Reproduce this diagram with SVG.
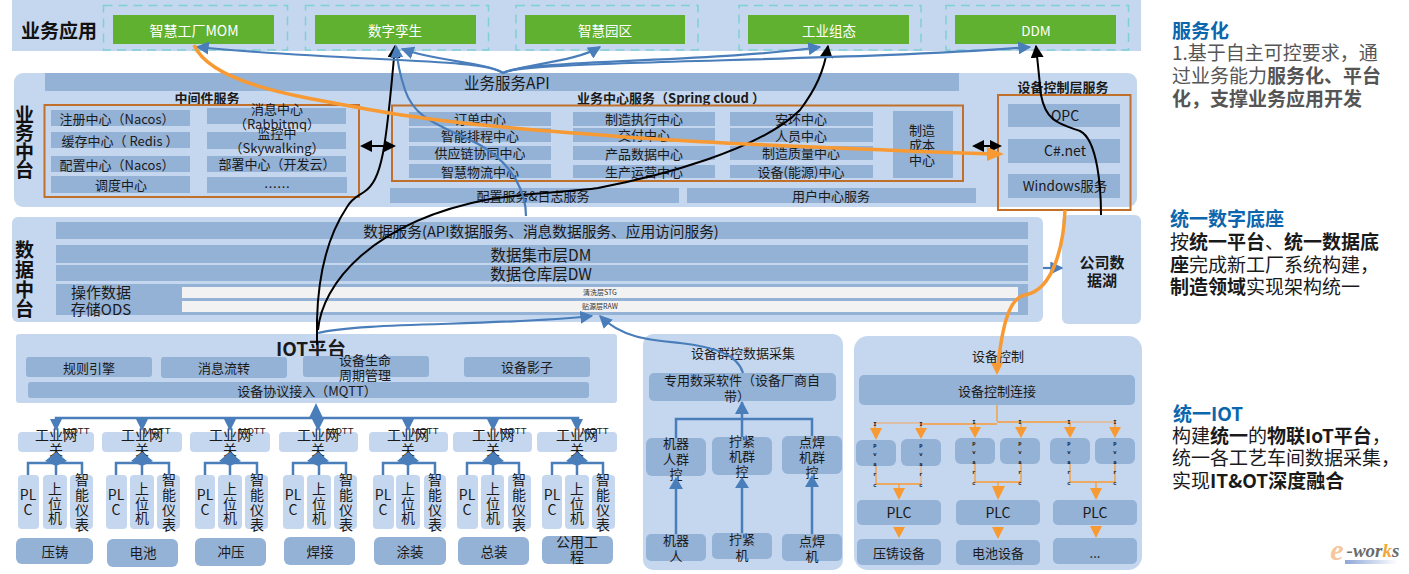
<svg xmlns="http://www.w3.org/2000/svg" width="1409" height="574" viewBox="0 0 1409 574">
<style>
text{font-family:"Noto Sans CJK SC","Noto Sans",sans-serif;fill:#1a1a1a;text-anchor:middle;dominant-baseline:central;font-size:13px}
.band{fill:#c5d7ef}.cell{fill:#94b1d6}.lt{fill:#c5d7ef}
.green{fill:#5fb12f}.dash{fill:none;stroke:#7fd0d6;stroke-width:1.5;stroke-dasharray:9 6}
text.gt{fill:#fff;font-size:13.500px}
.ob{fill:none;stroke:#c0702a;stroke-width:2}
text.h{font-weight:700;font-size:19px;fill:#111}
text.b{font-weight:700;font-size:13px}
text.m{font-size:15.500px}
text.s{font-size:7px;fill:#333}
text.q{font-size:9.500px;font-family:"Liberation Sans",sans-serif}
text.gw{font-size:14px}
text.side{text-anchor:start;font-size:19px;dominant-baseline:auto;fill:#1a1a1a}
.side tspan.bd{font-weight:700}
text.st{fill:#0b66ad;font-weight:700;text-anchor:start;font-size:19px;dominant-baseline:auto}
text.grey{fill:#555}
.tiny text{font-family:"Liberation Mono",monospace;font-size:5.500px;font-weight:700;fill:#111}
.bl{fill:none;stroke:#4a7ebb;stroke-width:2.200}
.blt{fill:none;stroke:#4a7ebb;stroke-width:2.500}
.k{fill:none;stroke:#000;stroke-width:2}
.o{fill:none;stroke:#f79a33;stroke-width:3.500}
.ot{fill:none;stroke:#f79a33;stroke-width:1.300}
.tan{fill:none;stroke:#e3b88f;stroke-width:1.600}
.bh{fill:#4a7ebb}.kh{fill:#000}.oh{fill:#f79a33}
</style>
<defs>
<marker id="mbl" viewBox="0 0 10 10" refX="9" refY="5" markerWidth="13" markerHeight="13" orient="auto" markerUnits="userSpaceOnUse"><path d="M0 0L10 5L0 10z" class="bh"/></marker>
<marker id="mk" viewBox="0 0 10 10" refX="9" refY="5" markerWidth="13" markerHeight="13" orient="auto" markerUnits="userSpaceOnUse"><path d="M0 0L10 5L0 10z" class="kh"/></marker>
<linearGradient id="lg"><stop offset="0" stop-color="#8fa8d8"/><stop offset="1" stop-color="#fff"/></linearGradient>
</defs>

<g id="app-layer">
<rect x="12" y="0" width="1129" height="51" class="band"/>
<text x="59" y="29" class="h">业务应用</text>
<rect x="103.500" y="5.500" width="184" height="44.500" class="dash"/><rect x="113" y="15" width="161" height="29" class="green"/><text x="194" y="29.500" class="gt" style="font-size:14px">智慧工厂MOM</text>
<rect x="305.500" y="5.500" width="183" height="44.500" class="dash"/><rect x="315" y="15" width="161" height="29" class="green"/><text x="395" y="29.500" class="gt">数字孪生</text>
<rect x="516" y="5.500" width="182" height="44.500" class="dash"/><rect x="525" y="15" width="160" height="29" class="green"/><text x="605" y="29.500" class="gt">智慧园区</text>
<rect x="739" y="5.500" width="182" height="44.500" class="dash"/><rect x="748" y="15" width="161" height="29" class="green"/><text x="829" y="29.500" class="gt">工业组态</text>
<rect x="946" y="5.500" width="182.500" height="44.500" class="dash"/><rect x="955" y="15" width="161" height="29" class="green"/><text x="1036" y="29.500" class="gt">DDM</text>
</g>

<g id="biz-platform">
<rect x="14" y="73" width="1123" height="134" rx="9" class="band"/>
<rect x="45" y="73" width="914" height="18" class="cell"/>
<text x="507" y="82" class="m">业务服务API</text>
<text x="24.500" y="113" class="h">业</text><text x="24.500" y="131" class="h">务</text><text x="24.500" y="150" class="h">中</text><text x="24.500" y="168" class="h">台</text>
</g>
<g id="middleware">
<text x="207" y="97" class="b">中间件服务</text>
<rect x="44.500" y="105" width="314.500" height="92" class="ob"/>
<rect x="51" y="110" width="139" height="16" class="cell"/><text x="117" y="118">注册中心（Nacos）</text>
<rect x="51" y="132" width="139" height="16" class="cell"/><text x="120" y="140">缓存中心（ Redis ）</text>
<rect x="51" y="156" width="139" height="16" class="cell"/><text x="117" y="164">配置中心（Nacos）</text>
<rect x="51" y="176" width="139" height="17" class="cell"/><text x="121" y="184.500">调度中心</text>
<rect x="207" y="108" width="139" height="16" class="cell"/><text x="277" y="108">消息中心</text><text x="277" y="123">（Rabbitmq）</text>
<rect x="207" y="132" width="139" height="17" class="cell"/><text x="277" y="132">监控中</text><text x="277" y="147">（Skywalking）</text>
<rect x="207" y="156" width="139" height="16" class="cell"/><text x="277" y="163.500">部署中心（开发云）</text>
<rect x="207" y="177" width="140" height="16" class="cell"/><text x="277" y="186">……</text>
</g>
<g id="biz-center">
<text x="671" y="97" class="b">业务中心服务（Spring cloud ）</text>
<rect x="392" y="105.500" width="571" height="75.500" class="ob"/>
<rect x="409" y="112" width="142" height="14" class="cell"/><text x="480" y="118">订单中心</text>
<rect x="409" y="128" width="142" height="14" class="cell"/><text x="480" y="135">智能排程中心</text>
<rect x="409" y="146" width="142" height="14" class="cell"/><text x="480" y="152.500">供应链协同中心</text>
<rect x="409" y="164" width="142" height="14" class="cell"/><text x="480" y="171">智慧物流中心</text>
<rect x="573" y="112" width="142" height="14" class="cell"/><text x="644" y="118">制造执行中心</text>
<rect x="573" y="128" width="142" height="14" class="cell"/><text x="644" y="134">交付中心</text>
<rect x="573" y="146" width="142" height="14" class="cell"/><text x="644" y="153">产品数据中心</text>
<rect x="573" y="165" width="142" height="13" class="cell"/><text x="644" y="171">生产运营中心</text>
<rect x="730" y="112" width="143" height="14" class="cell"/><text x="801" y="118">安环中心</text>
<rect x="730" y="128" width="143" height="14" class="cell"/><text x="801" y="135">人员中心</text>
<rect x="730" y="146" width="143" height="14" class="cell"/><text x="801" y="152.500">制造质量中心</text>
<rect x="730" y="165" width="143" height="13" class="cell"/><text x="801" y="171">设备(能源)中心</text>
<rect x="893" y="111" width="60" height="67" class="cell"/><text x="922" y="129">制造</text><text x="922" y="144">成本</text><text x="922" y="159">中心</text>
<rect x="390" y="188" width="289" height="15" class="cell"/><text x="533" y="195">配置服务&amp;日志服务</text>
<rect x="687" y="188" width="289" height="15" class="cell"/><text x="831" y="195">用户中心服务</text>
</g>
<g id="device-service">
<text x="1063" y="86" class="b">设备控制层服务</text>
<rect x="998" y="95" width="132.500" height="115" class="ob"/>
<rect x="1008" y="104" width="112" height="23" class="cell"/><text x="1065" y="115" style="font-size:14px">OPC</text>
<rect x="1008" y="139" width="112" height="24" class="cell"/><text x="1065" y="150" style="font-size:14px">C#.net</text>
<rect x="1008" y="174" width="112" height="24" class="cell"/><text x="1065" y="185" style="font-size:13.500px">Windows服务</text>
</g>

<g id="data-platform">
<rect x="12" y="217" width="1031" height="105" rx="6" class="band"/>
<text x="24.500" y="248" class="h">数</text><text x="24.500" y="268" class="h">据</text><text x="24.500" y="288" class="h">中</text><text x="24.500" y="307" class="h">台</text>
<rect x="56" y="222" width="972" height="17" class="cell"/><text x="541" y="230.500" style="font-size:14.700px">数据服务(API数据服务、消息数据服务、应用访问服务)</text>
<rect x="56" y="245" width="972" height="18" class="cell"/><text x="541" y="254" class="m">数据集市层DM</text>
<rect x="56" y="265" width="972" height="16" class="cell"/><text x="541" y="273" class="m">数据仓库层DW</text>
<rect x="56" y="284" width="972" height="31" class="cell"/>
<text x="101" y="291" style="font-size:15px">操作数据</text><text x="101" y="308.500" style="font-size:15px">存储ODS</text>
<rect x="182" y="287" width="836" height="11" fill="#f2f2f2"/><text x="600" y="292" class="s">清洗层STG</text>
<rect x="182" y="301" width="836" height="11" fill="#f2f2f2"/><text x="600" y="306" class="s">贴源层RAW</text>
</g>
<g id="data-lake">
<rect x="1062" y="215" width="79" height="109" rx="6" class="band"/>
<text x="1102" y="261" style="font-weight:700;font-size:15px">公司数</text><text x="1102" y="279" style="font-weight:700;font-size:15px">据湖</text>
</g>

<g id="iot-platform">
<rect x="16" y="334" width="601" height="69" rx="3" class="band"/>
<text x="311" y="347" style="font-size:19px;font-weight:700">IOT平台</text>
<rect x="26" y="357" width="126" height="20" rx="3" class="cell"/><text x="89" y="367">规则引擎</text>
<rect x="161" y="357" width="126" height="21" rx="3" class="cell"/><text x="224" y="367">消息流转</text>
<rect x="303" y="356" width="126" height="21" rx="3" class="cell"/><text x="365" y="359">设备生命</text><text x="365" y="374">周期管理</text>
<rect x="464" y="357" width="126" height="20" rx="3" class="cell"/><text x="527" y="366">设备影子</text>
<rect x="28" y="382" width="561" height="16" rx="3" class="cell"/><text x="307" y="390">设备协议接入（MQTT）</text>
</g>

<g id="line-diecast">
<rect x="18" y="432" width="76" height="20" rx="4" class="lt"/><text x="76" y="430" class="q">MQTT</text><text x="56" y="434" class="gw">工业网</text><text x="56" y="449" class="gw">关</text>
<rect x="18" y="475" width="21" height="54" rx="4" class="lt"/><text x="28" y="494" class="gw">PL</text><text x="28" y="509" class="gw">C</text>
<rect x="43" y="475" width="24" height="54" rx="4" class="lt"/><text x="55" y="488" class="gw">上</text><text x="55" y="503" class="gw">位</text><text x="55" y="517" class="gw">机</text>
<rect x="70" y="475" width="23" height="54" rx="4" class="lt"/><text x="82" y="479" class="gw">智</text><text x="82" y="494" class="gw">能</text><text x="82" y="509" class="gw">仪</text><text x="82" y="524" class="gw">表</text>
<rect x="16" y="538" width="77" height="26" rx="6" class="cell"/><text x="55" y="551" style="font-size:13.500px">压铸</text>
</g>
<g id="line-battery">
<rect x="102" y="432" width="80" height="20" rx="4" class="lt"/><text x="157" y="430" class="q">MQTT</text><text x="142" y="434" class="gw">工业网</text><text x="142" y="449" class="gw">关</text>
<rect x="106" y="475" width="21" height="54" rx="4" class="lt"/><text x="116" y="494" class="gw">PL</text><text x="116" y="509" class="gw">C</text>
<rect x="130" y="475" width="24" height="54" rx="4" class="lt"/><text x="142" y="488" class="gw">上</text><text x="142" y="503" class="gw">位</text><text x="142" y="517" class="gw">机</text>
<rect x="157" y="475" width="23" height="54" rx="4" class="lt"/><text x="169" y="479" class="gw">智</text><text x="169" y="494" class="gw">能</text><text x="169" y="509" class="gw">仪</text><text x="169" y="524" class="gw">表</text>
<rect x="107" y="539" width="71" height="28" rx="6" class="cell"/><text x="143" y="552" style="font-size:13.500px">电池</text>
</g>
<g id="line-stamping">
<rect x="190" y="432" width="80" height="20" rx="4" class="lt"/><text x="252" y="430" class="q">MQTT</text><text x="230" y="434" class="gw">工业网</text><text x="230" y="449" class="gw">关</text>
<rect x="195" y="475" width="20" height="54" rx="4" class="lt"/><text x="205" y="494" class="gw">PL</text><text x="205" y="509" class="gw">C</text>
<rect x="218" y="475" width="24" height="54" rx="4" class="lt"/><text x="230" y="488" class="gw">上</text><text x="230" y="503" class="gw">位</text><text x="230" y="517" class="gw">机</text>
<rect x="245" y="475" width="23" height="54" rx="4" class="lt"/><text x="257" y="479" class="gw">智</text><text x="257" y="494" class="gw">能</text><text x="257" y="509" class="gw">仪</text><text x="257" y="524" class="gw">表</text>
<rect x="195" y="538" width="71" height="28" rx="6" class="cell"/><text x="231" y="551" style="font-size:13.500px">冲压</text>
</g>
<g id="line-welding">
<rect x="279" y="432" width="79" height="20" rx="4" class="lt"/><text x="340" y="430" class="q">MQTT</text><text x="318" y="434" class="gw">工业网</text><text x="318" y="449" class="gw">关</text>
<rect x="283" y="475" width="21" height="54" rx="4" class="lt"/><text x="293" y="494" class="gw">PL</text><text x="293" y="509" class="gw">C</text>
<rect x="307" y="475" width="24" height="54" rx="4" class="lt"/><text x="319" y="488" class="gw">上</text><text x="319" y="503" class="gw">位</text><text x="319" y="517" class="gw">机</text>
<rect x="334" y="475" width="23" height="54" rx="4" class="lt"/><text x="346" y="479" class="gw">智</text><text x="346" y="494" class="gw">能</text><text x="346" y="509" class="gw">仪</text><text x="346" y="524" class="gw">表</text>
<rect x="284" y="537" width="71" height="28" rx="6" class="cell"/><text x="320" y="551" style="font-size:13.500px">焊接</text>
</g>
<g id="line-coating">
<rect x="369" y="432" width="79" height="20" rx="4" class="lt"/><text x="425" y="430" class="q">MQTT</text><text x="408" y="434" class="gw">工业网</text><text x="408" y="449" class="gw">关</text>
<rect x="373" y="475" width="21" height="54" rx="4" class="lt"/><text x="383" y="494" class="gw">PL</text><text x="383" y="509" class="gw">C</text>
<rect x="396" y="475" width="24" height="54" rx="4" class="lt"/><text x="408" y="488" class="gw">上</text><text x="408" y="503" class="gw">位</text><text x="408" y="517" class="gw">机</text>
<rect x="424" y="475" width="22" height="54" rx="4" class="lt"/><text x="435" y="479" class="gw">智</text><text x="435" y="494" class="gw">能</text><text x="435" y="509" class="gw">仪</text><text x="435" y="524" class="gw">表</text>
<rect x="374" y="537" width="72" height="28" rx="6" class="cell"/><text x="410" y="551" style="font-size:13.500px">涂装</text>
</g>
<g id="line-assembly">
<rect x="453" y="432" width="79" height="20" rx="4" class="lt"/><text x="513" y="430" class="q">MQTT</text><text x="493" y="434" class="gw">工业网</text><text x="493" y="449" class="gw">关</text>
<rect x="457" y="475" width="21" height="54" rx="4" class="lt"/><text x="467" y="494" class="gw">PL</text><text x="467" y="509" class="gw">C</text>
<rect x="481" y="475" width="23" height="54" rx="4" class="lt"/><text x="493" y="488" class="gw">上</text><text x="493" y="503" class="gw">位</text><text x="493" y="517" class="gw">机</text>
<rect x="508" y="475" width="23" height="54" rx="4" class="lt"/><text x="519" y="479" class="gw">智</text><text x="519" y="494" class="gw">能</text><text x="519" y="509" class="gw">仪</text><text x="519" y="524" class="gw">表</text>
<rect x="458" y="537" width="71" height="28" rx="6" class="cell"/><text x="494" y="551" style="font-size:13.500px">总装</text>
</g>
<g id="line-utility">
<rect x="537" y="432" width="80" height="20" rx="4" class="lt"/><text x="595" y="430" class="q">MQTT</text><text x="577" y="434" class="gw">工业网</text><text x="577" y="449" class="gw">关</text>
<rect x="542" y="475" width="20" height="54" rx="4" class="lt"/><text x="552" y="494" class="gw">PL</text><text x="552" y="509" class="gw">C</text>
<rect x="565" y="475" width="24" height="54" rx="4" class="lt"/><text x="577" y="488" class="gw">上</text><text x="577" y="503" class="gw">位</text><text x="577" y="517" class="gw">机</text>
<rect x="592" y="475" width="23" height="54" rx="4" class="lt"/><text x="603" y="479" class="gw">智</text><text x="603" y="494" class="gw">能</text><text x="603" y="509" class="gw">仪</text><text x="603" y="524" class="gw">表</text>
<rect x="542" y="536" width="71" height="28" rx="6" class="cell"/><text x="577" y="541" class="gw">公用工</text><text x="577" y="556" class="gw">程</text>
</g>

<g id="group-collect">
<rect x="643" y="334" width="200" height="236" rx="10" class="band"/>
<text x="743" y="352">设备群控数据采集</text>
<rect x="649" y="373" width="187" height="28" rx="5" class="cell"/><text x="742" y="379">专用数采软件（设备厂商自</text><text x="737" y="395">带）</text>
<rect x="646" y="438" width="60" height="38" rx="6" class="cell"/><text x="676" y="442">机器</text><text x="676" y="458">人群</text><text x="676" y="473">控</text>
<rect x="712" y="437" width="60" height="38" rx="6" class="cell"/><text x="742" y="440">拧紧</text><text x="742" y="455">机群</text><text x="742" y="470">控</text>
<rect x="782" y="436" width="60" height="38" rx="6" class="cell"/><text x="812" y="441">点焊</text><text x="812" y="456">机群</text><text x="812" y="471">控</text>
<rect x="646" y="534" width="60" height="27" rx="5" class="cell"/><text x="676" y="539">机器</text><text x="676" y="555">人</text>
<rect x="712" y="533" width="60" height="26" rx="5" class="cell"/><text x="742" y="538">拧紧</text><text x="742" y="554">机</text>
<rect x="782" y="534" width="60" height="27" rx="5" class="cell"/><text x="812" y="540">点焊</text><text x="812" y="555">机</text>
</g>
<g id="device-control">
<rect x="854" y="336" width="288" height="234" rx="14" class="band"/>
<text x="998" y="355">设备控制</text>
<rect x="859" y="375" width="276" height="30" rx="5" class="cell"/><text x="997" y="390">设备控制连接</text>
<rect x="856" y="440" width="40" height="26" rx="6" class="cell"/><rect x="901" y="439" width="40" height="27" rx="6" class="cell"/>
<rect x="955" y="438" width="40" height="26" rx="6" class="cell"/><rect x="1000" y="438" width="40" height="26" rx="6" class="cell"/>
<rect x="1050" y="438" width="40" height="26" rx="6" class="cell"/><rect x="1095" y="438" width="40" height="26" rx="6" class="cell"/>
<rect x="857" y="500" width="84" height="25" rx="5" class="cell"/><text x="899" y="512" style="font-size:14px">PLC</text>
<rect x="956" y="500" width="84" height="25" rx="5" class="cell"/><text x="998" y="512" style="font-size:14px">PLC</text>
<rect x="1053" y="500" width="84" height="25" rx="5" class="cell"/><text x="1095" y="512" style="font-size:14px">PLC</text>
<rect x="857" y="539" width="84" height="26" rx="5" class="cell"/><text x="899" y="552">压铸设备</text>
<rect x="956" y="540" width="84" height="25" rx="5" class="cell"/><text x="998" y="552">电池设备</text>
<rect x="1053" y="538" width="84" height="26" rx="5" class="cell"/><text x="1095" y="552">...</text>
</g>

<g id="connectors">
<path class="k" d="M317 345V320C318 280 325 240 347 207C352 198 358 196 364 192C382 180 386 150 395 46" marker-end="url(#mk)"/>
<path class="k" d="M318 330C322 285 370 222 490 199C540 192 570 192 598 188C660 176 760 150 800 110C815 90 824 72 828 46" marker-end="url(#mk)"/>
<path class="k" d="M1101 215C1101 190 1098 140 1080 131C1060 124 1046 122 1041 95L1036 46" marker-end="url(#mk)"/>
<path class="k" d="M362 146H394M974 146H1000"/>
<path class="kh" d="M360 146L372 140V152zM396 146L384 140V152zM972 146L984 140V152zM1002 146L990 140V152z"/>
<path class="bl" d="M503 73C485 58 350 62 197 47" marker-end="url(#mbl)"/>
<path class="bl" d="M503 73C485 62 440 62 402 49" marker-end="url(#mbl)"/>
<path class="bl" d="M503 73C525 64 575 62 600 47" marker-end="url(#mbl)"/>
<path class="bl" d="M503 73C520 60 720 62 820 47" marker-end="url(#mbl)"/>
<path class="bl" d="M503 73C520 60 850 62 1030 47" marker-end="url(#mbl)"/>
<path class="bl" d="M526 216C526 195 515 165 480 145C440 125 415 120 405 90C400 75 397 60 396 46" marker-end="url(#mbl)"/>
<path class="bl" d="M318 333C360 322 500 326 592 316" marker-end="url(#mbl)"/>
<path class="bl" d="M743 373C738 355 715 347 680 343C650 340 622 338 600 316" marker-end="url(#mbl)"/>
<path class="bl" d="M1043 268H1062" marker-end="url(#mbl)"/>
<path class="blt" d="M56 428V418H578V428M142 418V428M230 418V428M318 418V428M408 418V428M493 418V428"/>
<path class="bh" d="M316 403L323 418H309z"/>
<path class="bh" d="M50 419H62L56 431zM136 419H148L142 431zM224 419H236L230 431zM312 419H324L318 431zM402 419H414L408 431zM487 419H499L493 431zM571 419H583L577 431z"/>
<path class="blt" d="M28 475V463H82V475M56 463V475M116 475V463H169V475M142 463V475M205 475V463H257V475M230 463V475M293 475V463H346V475M319 463V475M383 475V463H435V475M408 463V475M467 475V463H519V475M493 463V475M552 475V463H603V475M577 463V475"/>
<path class="bh" d="M56 452L67 461L56 466L45 461zM142 452L153 461L142 466L131 461zM230 452L241 461L230 466L219 461zM318 452L329 461L318 466L307 461zM408 452L419 461L408 466L397 461zM493 452L504 461L493 466L482 461zM577 452L588 461L577 466L566 461z"/>
<path class="blt" d="M676 438V419H812V436M742 437V402"/>
<path class="bh" d="M742 401L749 414H735z"/>
<path class="blt" d="M676 534V480M742 533V480M812 534V480"/>
<path class="bh" d="M676 477L683 489H669zM742 477L749 488H735zM812 475L819 487H805z"/>
<path class="o" d="M194 45C212 85 300 97 389 113C470 126 560 132 640 138C760 146 880 150 990 154"/>
<path class="oh" d="M1004 154L987 161V147z"/>
<path class="o" d="M1065 210C1064 240 1055 290 1025 295C1008 298 1002 330 998 365"/>
<path class="oh" d="M997 375L991 363H1003z"/>
<path class="tan" d="M875 423H921M1070 422H1115M921 466V484"/>
<path class="ot" d="M997 405V421M921 424H997M997 422H1070M875 423V430M921 423V430M975 422V430M1021 422V430M1070 422V430M1115 422V430"/>
<path class="oh" d="M870 428H882L876 440zM915 428H927L921 439zM969 427H981L975 438zM1015 427H1027L1021 438zM1064 427H1076L1070 438zM1109 427H1121L1115 438z"/>
<path class="ot" d="M876 466V484H921M899 484V490M975 464V482H998M1021 464V482H998M998 482V490M1070 464V482H1115V464M1096 482V490"/>
<path class="oh" d="M893 488H905L899 500zM992 486H1005L998 500zM1090 488H1102L1096 500zM893 527H905L899 538zM992 527H1004L998 539zM1090 526H1102L1096 538z"/>
<g class="tiny">
<text x="875" y="424">I</text><text x="921" y="424">I</text><text x="974" y="422">I</text><text x="1020" y="422">I</text><text x="1069" y="422">I</text><text x="1115" y="422">I</text>
<text x="875" y="445">p</text><text x="921" y="445">p</text><text x="974" y="443">p</text><text x="1020" y="443">p</text><text x="1069" y="443">p</text><text x="1115" y="443">p</text>
<text x="875" y="454">v</text><text x="921" y="454">v</text><text x="974" y="452">v</text><text x="1020" y="452">v</text><text x="1069" y="452">v</text><text x="1115" y="452">v</text>
<text x="875" y="464">a</text><text x="921" y="464">a</text><text x="974" y="462">a</text><text x="1020" y="462">a</text><text x="1069" y="462">a</text><text x="1115" y="462">a</text>
<text x="875" y="474">r</text><text x="921" y="474">r</text><text x="974" y="472">r</text><text x="1020" y="472">r</text><text x="1069" y="472">r</text><text x="1115" y="472">r</text>
<text x="875" y="485">c</text><text x="921" y="485">c</text><text x="974" y="483">c</text><text x="1020" y="483">c</text><text x="1069" y="483">c</text><text x="1115" y="483">c</text>
</g>
</g>

<g id="notes">
<text class="st" x="1172" y="38">服务化</text>
<text class="side grey" x="1172" y="60">1.基于自主可控要求，通</text>
<text class="side grey" x="1172" y="83">过业务能力<tspan class="bd">服务化、平台</tspan></text>
<text class="side grey" x="1172" y="106"><tspan class="bd">化，支撑业务应用开发</tspan></text>
<text class="st" x="1170" y="226">统一数字底座</text>
<text class="side" x="1170" y="249">按<tspan class="bd">统一平台</tspan>、<tspan class="bd">统一数据底</tspan></text>
<text class="side" x="1170" y="272"><tspan class="bd">座</tspan>完成新工厂系统构建，</text>
<text class="side" x="1170" y="294"><tspan class="bd">制造领域</tspan>实现架构统一</text>
<text class="st" x="1173" y="421">统一IOT</text>
<text class="side" x="1172" y="443">构建<tspan class="bd">统一</tspan>的<tspan class="bd">物联IoT平台</tspan>，</text>
<text class="side" x="1172" y="465">统一各工艺车间数据采集，</text>
<text class="side" x="1172" y="488">实现<tspan class="bd">IT&amp;OT深度融合</tspan></text>
</g>

<g id="logo">
<text x="1337" y="549" style="font-family:'Liberation Serif',serif;font-size:30px;font-style:italic;fill:#f5c79a;font-weight:700">e</text>
<text x="1373" y="550" style="font-family:'Liberation Serif',serif;font-size:19px;font-style:italic;font-weight:700;fill:#6b6b6b">-wor<tspan fill="#f0a938">k</tspan>s</text>
<rect x="1345" y="560" width="53" height="4" fill="url(#lg)"/>
</g>
</svg>
